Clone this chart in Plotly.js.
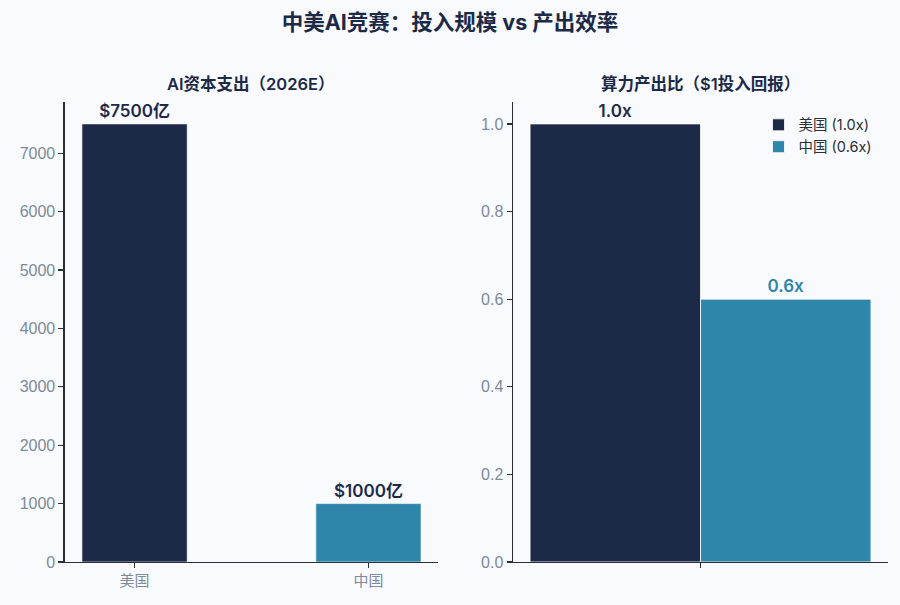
<!DOCTYPE html>
<html>
<head>
<meta charset="utf-8">
<script src="https://cdn.plot.ly/plotly-3.0.1.min.js"></script>
<style>html,body{margin:0;padding:0;background:#f8fafd;}#chart{width:900px;height:605px;}</style>
</head>
<body>
<div id="chart"></div>
<script>
// ---- data ----
const capexCategories = ['美国', '中国'];
const capexValues = [7500, 1000];
const capexLabels = ['$7500亿', '$1000亿'];
const ratioSeriesNames = ['美国 (1.0x)', '中国 (0.6x)'];
const ratioValues = [1.0, 0.6];
const ratioLabels = ['1.0x', '0.6x'];
const ratioPosition = [0];
const leftTicks = [0, 1000, 2000, 3000, 4000, 5000, 6000, 7000];
const rightTicks = [0, 0.2, 0.4, 0.6, 0.8, 1.0];

const NAVY = '#1c2a48';
const TEAL = '#2e86aa';
const seriesColors = [NAVY, TEAL];
const FONT = 'Inter, "Noto Sans CJK SC", "Noto Sans", sans-serif';
const TICKFONT = '"Liberation Sans", Arial, "Noto Sans CJK SC", sans-serif';
const GRAY = '#7d8a99';
const AXIS = '#2a2f36';

const groupWidth = 0.5;
const traces = [];
traces.push({
  type: 'bar', x: capexCategories, y: capexValues,
  xaxis: 'x', yaxis: 'y',
  marker: {color: seriesColors, line: {color: '#ffffff', width: 0.6}},
  text: capexLabels, textposition: 'outside', cliponaxis: false,
  textfont: {family: FONT, size: 17, color: NAVY, weight: 600},
  showlegend: false, hoverinfo: 'skip'
});
ratioSeriesNames.forEach((name, i) => {
  traces.push({
    type: 'bar', name: name, x: ratioPosition, y: [ratioValues[i]],
    xaxis: 'x2', yaxis: 'y2',
    width: groupWidth, offset: -groupWidth + i * groupWidth,
    marker: {color: seriesColors[i], line: {color: '#ffffff', width: 0.8}},
    text: [ratioLabels[i]], textposition: 'outside', cliponaxis: false,
    textfont: {family: FONT, size: 17, color: seriesColors[i], weight: 600},
    hoverinfo: 'skip'
  });
});

const axisCommon = {
  showline: true, linecolor: AXIS, linewidth: 1.5,
  ticks: 'outside', ticklen: 5, tickwidth: 1.2, tickcolor: AXIS,
  showgrid: false, zeroline: false,
  tickfont: {family: TICKFONT, size: 16, color: GRAY}
};

const layout = {
  width: 900, height: 605,
  paper_bgcolor: '#f8fafd', plot_bgcolor: '#f8fafd',
  margin: {l: 0, r: 0, t: 0, b: 0},
  font: {family: FONT},
  barmode: 'group', bargap: 0.55, bargroupgap: 0,
  title: {text: '<b>中美AI竞赛：投入规模 vs 产出效率</b>', x: 0.5, xanchor: 'center', y: 0.963, yanchor: 'middle',
          font: {family: FONT, size: 21.5, color: NAVY}},
  xaxis: Object.assign({}, axisCommon, {domain: [0.0722, 0.4867], range: [-0.2975, 1.2975], type: 'category',
          tickfont: {family: FONT, size: 15, color: GRAY}}),
  yaxis: Object.assign({}, axisCommon, {domain: [0.0711, 0.8314], range: [0, 7875], tickvals: leftTicks, anchor: 'x'}),
  xaxis2: Object.assign({}, axisCommon, {domain: [0.57, 0.9867], range: [-0.55, 0.55], tickvals: ratioPosition, showticklabels: false, anchor: 'y2'}),
  yaxis2: Object.assign({}, axisCommon, {domain: [0.0711, 0.8314], range: [0, 1.05], tickvals: rightTicks, tickformat: '.1f', anchor: 'x2'}),
  legend: {x: 0.975, xanchor: 'right', y: 0.82, yanchor: 'top', bgcolor: 'rgba(0,0,0,0)',
           font: {family: FONT, size: 14.5, color: '#2a2f36'}, tracegroupgap: 2},
  annotations: [
    {text: 'AI资本支出（2026E）', xref: 'paper', yref: 'paper', x: 0.2794, y: 0.861, xanchor: 'center', yanchor: 'middle',
     showarrow: false, font: {family: FONT, size: 16.5, color: NAVY, weight: 600}},
    {text: '算力产出比（$1投入回报）', xref: 'paper', yref: 'paper', x: 0.7783, y: 0.861, xanchor: 'center', yanchor: 'middle',
     showarrow: false, font: {family: FONT, size: 16.5, color: NAVY, weight: 600}}
  ]
};

Plotly.newPlot('chart', traces, layout, {displayModeBar: false, staticPlot: true});
</script>
</body>
</html>
